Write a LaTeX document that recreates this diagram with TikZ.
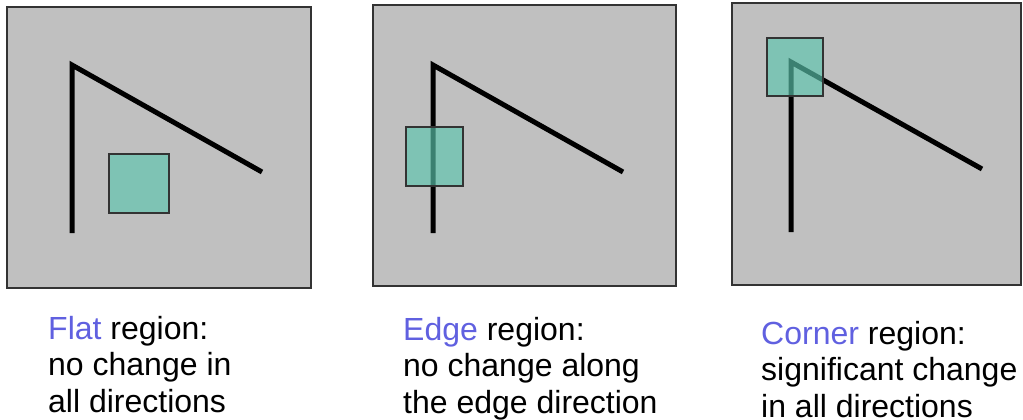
\documentclass[tikz,border=0pt]{standalone}
\usepackage{fontspec}
\setmainfont{Liberation Sans}
\definecolor{panelgray}{RGB}{192,192,192}
\definecolor{winfill}{RGB}{92,198,174}
\definecolor{kwblue}{RGB}{96,96,224}
\begin{document}
\begin{tikzpicture}[x=1pt,y=-1pt,
  panel/.style={draw=black!80,line width=1.5pt,fill=panelgray},
  shapeline/.style={line width=5pt,black,line join=miter},
  window/.style={draw=black!80,line width=1.3pt,fill=winfill,fill opacity=0.65},
  caption/.style={anchor=base west,align=left,inner sep=0pt,font=\fontsize{32}{36.5}\selectfont},
  kw/.style={text=kwblue}]
\useasboundingbox (0,0) rectangle (1023,420);
% panel 1: flat
\draw[panel] (7,7) rectangle (311,288);
\draw[shapeline] (72,233) -- (72,65) -- (262,172);
\draw[window] (109,154) rectangle (169,213);
% panel 2: edge
\draw[panel] (373,5) rectangle (676,286);
\draw[shapeline] (433,233) -- (433,65) -- (623,172);
\draw[window] (406,127) rectangle (463,186);
% panel 3: corner
\draw[panel] (732,3) rectangle (1021,285);
\draw[shapeline] (791,232) -- (791,62) -- (982,169);
\draw[window] (767,38) rectangle (823,96);
% captions (base anchor = baseline of the last line)
\node[caption] (capflat) at (48,412) {\textcolor{kwblue}{Flat} region:\\no change in\\all directions};
\node[caption] (capedge) at (403,413) {\textcolor{kwblue}{Edge} region:\\no change along\\the edge direction};
\node[caption] (capcorner) at (761,417) {\textcolor{kwblue}{Corner} region:\\significant change\\in all directions};
\end{tikzpicture}
\end{document}
